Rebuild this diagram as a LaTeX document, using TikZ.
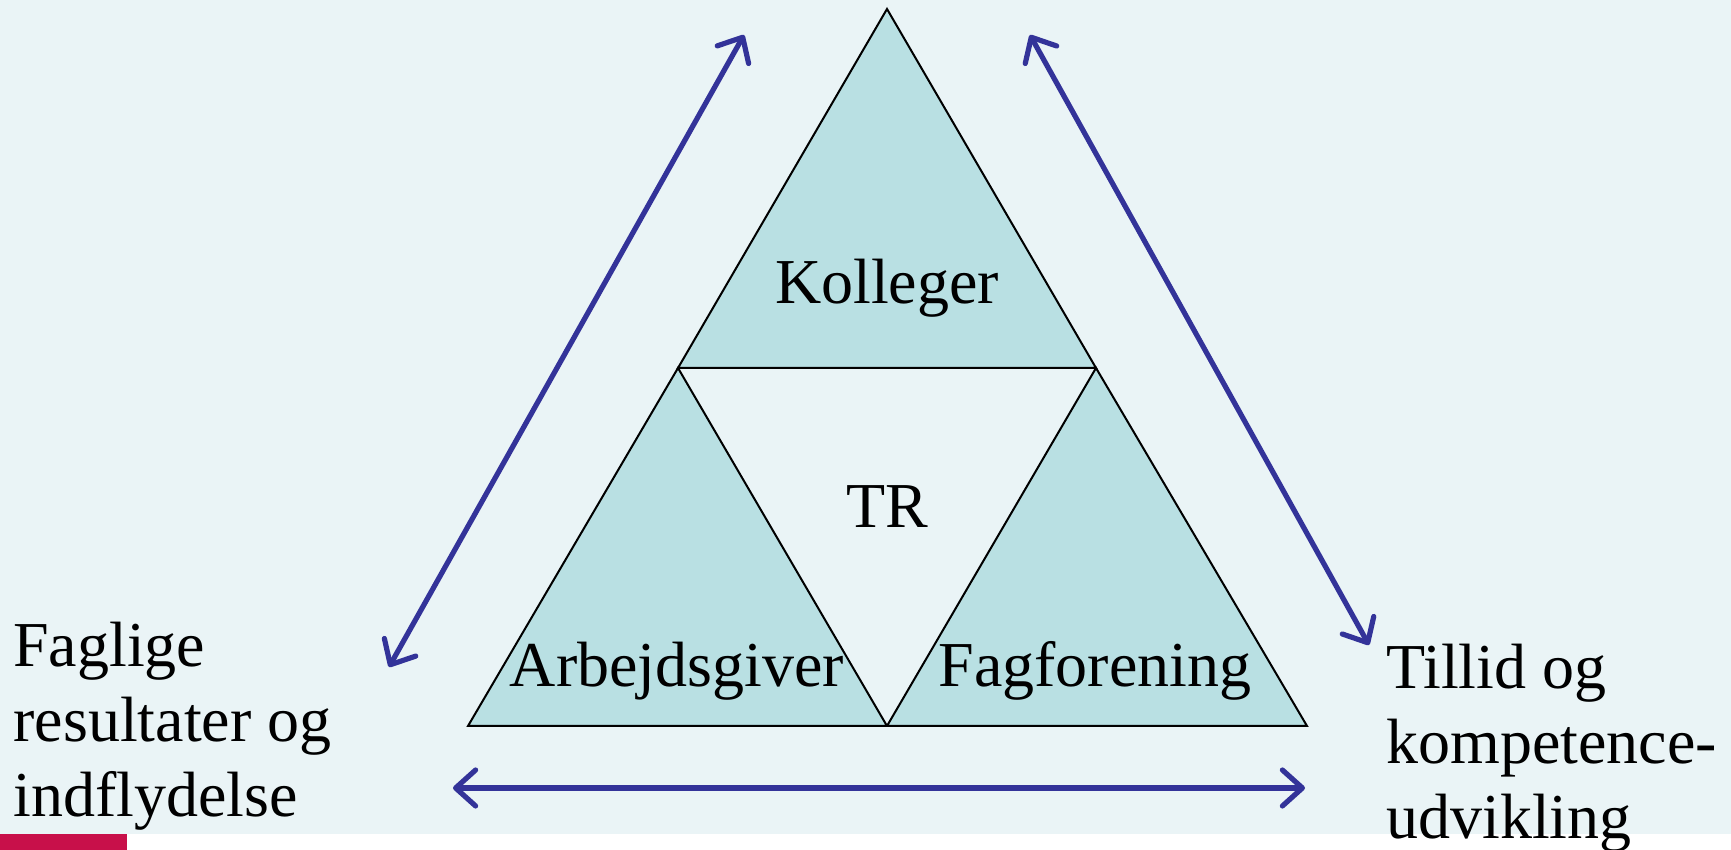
\documentclass[tikz,border=0pt]{standalone}
\usepackage{fontspec}
\setmainfont{Liberation Serif}
\usetikzlibrary{arrows.meta}
\definecolor{slidebg}{HTML}{EAF4F6}
\definecolor{trifill}{HTML}{B9E0E3}
\definecolor{arrowblue}{HTML}{333399}
\definecolor{slidered}{HTML}{C8104A}
\begin{document}
\begin{tikzpicture}[x=0.5pt,y=0.5pt,
  every node/.style={font=\fontsize{32}{37.5}\selectfont,inner sep=0pt},
  part/.style={draw=black,line width=1pt,fill=trifill},
  twoway/.style={{Straight Barb[length=10pt,width=18pt,round]}-{Straight Barb[length=10pt,width=18pt,round]},draw=arrowblue,line width=2.6pt,line cap=round}]
\useasboundingbox (0,0) rectangle (1731,850);

% slide
\fill[slidebg] (0,16) rectangle (1731,850);
\fill[slidered] (0,0) rectangle (127,16);

\coordinate (top) at (887,841);
\coordinate (midl) at (678,482);
\coordinate (midr) at (1096,482);
\coordinate (botl) at (468,124);
\coordinate (botm) at (887,124);
\coordinate (botr) at (1307,124);

% the three parts
\draw[part] (top) -- (midr) -- (midl) -- cycle;
\draw[part] (midl) -- (botm) -- (botl) -- cycle;
\draw[part] (midr) -- (botr) -- (botm) -- cycle;

\node[anchor=base] (kolleger) at (887,546) {Kolleger};
\node[anchor=base] (tr) at (887,322) {TR};
\node[anchor=base] (arbejdsgiver) at (677,163) {Arbejdsgiver};
\node[anchor=base] (fagforening) at (1095,163) {Fagforening};

% base = last line
\node[align=left,anchor=base west] (faglige) at (13,33) {Faglige\\resultater og\\indflydelse};
\node[align=left,anchor=base west] (tillid) at (1386,11) {Tillid og\\kompetence-\\udvikling};

% arrows
\coordinate (la1) at (389,183);
\coordinate (la2) at (744,815);
\coordinate (ra1) at (1030,815);
\coordinate (ra2) at (1369,205);
\coordinate (ba1) at (453,62);
\coordinate (ba2) at (1305,62);
\draw[twoway] (la1) -- (la2);
\draw[twoway] (ra1) -- (ra2);
\draw[twoway] (ba1) -- (ba2);

\end{tikzpicture}
\end{document}
